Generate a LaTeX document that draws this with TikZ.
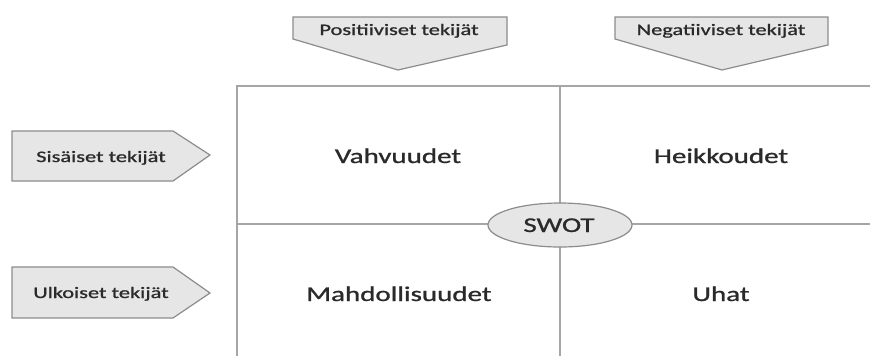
\documentclass[tikz,border=0pt]{standalone}
\usepackage{fontspec}
\setmainfont{Carlito}
\newfontfamily\lblfont{Carlito}[FakeBold=0.9]
\definecolor{boxfill}{HTML}{E6E6E6}
\definecolor{boxline}{HTML}{8C8C8C}
\definecolor{gridline}{HTML}{A6A6A6}
\definecolor{txt}{HTML}{2A2A2A}
\tikzset{
  x=1pt, y=-1pt,
  arrowbox/.style={fill=boxfill, draw=boxline, line width=1.2pt, line join=miter},
  gridln/.style={draw=gridline, line width=1.8pt},
  smalllbl/.style={anchor=base, inner sep=0pt, text=txt, font=\lblfont\fontsize{16}{18}\selectfont},
  biglbl/.style={anchor=base, inner sep=0pt, text=txt, font=\lblfont\fontsize{21}{24}\selectfont},
}
\newcommand{\wide}[1]{\scalebox{1.38}[1]{#1}}
\newcommand{\widesm}[1]{\scalebox{1.4}[1]{#1}}
\begin{document}
\begin{tikzpicture}
\useasboundingbox (0,0) rectangle (870,356);
% grid
\coordinate (tl) at (237,86);
\coordinate (tr) at (870,86);
\coordinate (bl) at (237,356);
\coordinate (tm) at (560,86);
\coordinate (bm) at (560,356);
\coordinate (ml) at (237,224);
\coordinate (mr) at (870,224);
\draw[gridln] (bl) -- (tl) -- (tr);
\draw[gridln] (tm) -- (bm);
\draw[gridln] (ml) -- (mr);
% top arrows
\draw[arrowbox] (293,17) -- (507,17) -- (507,45) -- (398,70) -- (293,39) -- cycle;
\draw[arrowbox] (615,17) -- (828,17) -- (828,45) -- (722,70) -- (615,39) -- cycle;
% left arrows
\draw[arrowbox] (12,131) -- (173,131) -- (210,155) -- (173,181) -- (12,181) -- cycle;
\draw[arrowbox] (12,267) -- (173,267) -- (210,293) -- (173,318) -- (12,318) -- cycle;
% labels
\node[smalllbl] (pos) at (399,35) {\widesm{Positiiviset tekijät}};
\node[smalllbl] (neg) at (721,35) {\widesm{Negatiiviset tekijät}};
\node[smalllbl] (sis) at (101,162) {\widesm{Sisäiset tekijät}};
\node[smalllbl] (ulk) at (101,298) {\widesm{Ulkoiset tekijät}};
\node[biglbl] (vah) at (398,163) {\wide{Vahvuudet}};
\node[biglbl] (hei) at (721,163) {\wide{Heikkoudet}};
\node[biglbl] (mah) at (399,301) {\wide{Mahdollisuudet}};
\node[biglbl] (uha) at (721,301) {\wide{Uhat}};
% SWOT ellipse
\draw[fill=boxfill, draw=boxline, line width=1.2pt] (560,225) ellipse [x radius=72, y radius=22];
\node[biglbl] (swot) at (559,232) {\wide{SWOT}};
\end{tikzpicture}
\end{document}
